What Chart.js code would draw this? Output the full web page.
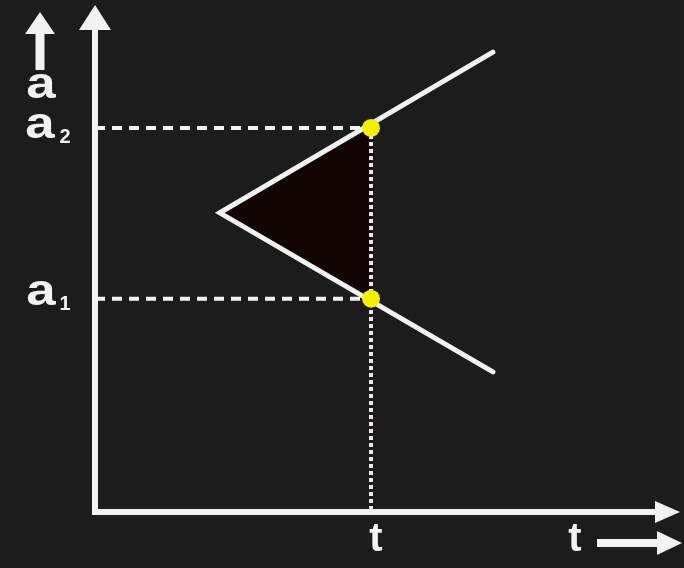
<!DOCTYPE html>
<html>
<head>
<meta charset="utf-8">
<script src="https://cdn.jsdelivr.net/npm/chart.js@4.4.0/dist/chart.umd.min.js"></script>
<style>
  html, body { margin: 0; padding: 0; background: #1c1c1c; }
  #wrap { width: 684px; height: 568px; position: relative; }
</style>
</head>
<body>
<div id="wrap"><canvas id="diagram"></canvas></div>
<script>
// values (axis units 0..100)
var tValue = 48;
var a1Value = 42.5;
var a2Value = 76.5;
var apex = [21.7, 59.6];
var upperEnd = [69.2, 91.6];
var lowerEnd = [69.2, 27.9];
var axisLabels = ['a', 't'];
var tickNames = ['a', 't'];

var white = '#f2f2f2';

// wide squat letters like the reference
function wideText(ctx, txt, cx, cy, sx) {
  ctx.save();
  ctx.translate(cx, cy);
  ctx.scale(sx, 1);
  ctx.fillText(txt, 0, 0);
  ctx.restore();
}

// axes with arrows + text labels
var decor = {
  id: 'decor',
  beforeDatasetsDraw: function(chart) {
    var ctx = chart.ctx, ca = chart.chartArea;
    ctx.save();
    ctx.strokeStyle = white;
    ctx.fillStyle = white;
    ctx.lineWidth = 6;
    // y axis
    ctx.beginPath();
    ctx.moveTo(ca.left, ca.bottom + 3);
    ctx.lineTo(ca.left, ca.top + 18);
    ctx.stroke();
    ctx.beginPath();
    ctx.moveTo(ca.left - 16, ca.top + 20);
    ctx.lineTo(ca.left, ca.top - 5);
    ctx.lineTo(ca.left + 16, ca.top + 20);
    ctx.closePath();
    ctx.fill();
    // x axis
    ctx.beginPath();
    ctx.moveTo(ca.left - 3, ca.bottom);
    ctx.lineTo(ca.right - 12, ca.bottom);
    ctx.stroke();
    ctx.beginPath();
    ctx.moveTo(ca.right - 15, ca.bottom - 11);
    ctx.lineTo(ca.right + 10, ca.bottom);
    ctx.lineTo(ca.right - 15, ca.bottom + 11);
    ctx.closePath();
    ctx.fill();
    ctx.restore();
  },
  afterDraw: function(chart) {
    var ctx = chart.ctx, ca = chart.chartArea;
    var x = chart.scales.x, y = chart.scales.y;
    ctx.save();
    ctx.fillStyle = white;
    ctx.strokeStyle = white;
    ctx.textAlign = 'center';
    ctx.textBaseline = 'middle';
    ctx.font = 'bold 44px "Liberation Sans", Arial, sans-serif';
    // a label with small up arrow
    wideText(ctx, axisLabels[0], 41, 86, 1.2);
    ctx.lineWidth = 9;
    ctx.beginPath();
    ctx.moveTo(40, 70);
    ctx.lineTo(40, 30);
    ctx.stroke();
    ctx.beginPath();
    ctx.moveTo(25, 34);
    ctx.lineTo(40, 12);
    ctx.lineTo(55, 34);
    ctx.closePath();
    ctx.fill();
    // a2, a1
    var ya2 = y.getPixelForValue(a2Value), ya1 = y.getPixelForValue(a1Value);
    wideText(ctx, tickNames[0], 40, ya2 - 2, 1.2);
    wideText(ctx, tickNames[0], 41, ya1 - 6, 1.2);
    ctx.font = 'bold 20px "Liberation Sans", Arial, sans-serif';
    ctx.fillText('2', 65, ya2 + 10);
    ctx.fillText('1', 65, ya1 + 6);
    // t labels
    ctx.font = 'bold 40px "Liberation Sans", Arial, sans-serif';
    ctx.fillText(tickNames[1], x.getPixelForValue(tValue) + 5, ca.bottom + 28);
    ctx.fillText(axisLabels[1], 575, ca.bottom + 28);
    ctx.lineWidth = 8;
    ctx.beginPath();
    ctx.moveTo(597, ca.bottom + 31);
    ctx.lineTo(662, ca.bottom + 31);
    ctx.stroke();
    ctx.beginPath();
    ctx.moveTo(657, ca.bottom + 19);
    ctx.lineTo(682, ca.bottom + 31);
    ctx.lineTo(657, ca.bottom + 43);
    ctx.closePath();
    ctx.fill();
    ctx.restore();
  }
};

var config = {
  type: 'scatter',
  data: {
    datasets: [
      {
        // shaded triangle
        data: [{x: apex[0], y: apex[1]}, {x: tValue, y: a2Value}, {x: tValue, y: a1Value}, {x: apex[0], y: apex[1]}],
        showLine: true,
        borderWidth: 0,
        borderColor: 'rgba(0,0,0,0)',
        backgroundColor: '#130404',
        fill: 'shape',
        pointRadius: 0,
        order: 5
      },
      {
        // horizontal dashed a2
        data: [{x: 0, y: a2Value}, {x: tValue, y: a2Value}],
        showLine: true,
        borderColor: white,
        borderWidth: 4,
        borderDash: [10, 7],
        pointRadius: 0,
        order: 4
      },
      {
        // horizontal dashed a1
        data: [{x: 0, y: a1Value}, {x: tValue, y: a1Value}],
        showLine: true,
        borderColor: white,
        borderWidth: 4,
        borderDash: [10, 7],
        pointRadius: 0,
        order: 4
      },
      {
        // vertical dotted at t
        data: [{x: tValue, y: a2Value}, {x: tValue, y: 0}],
        showLine: true,
        borderColor: '#f0e6ee',
        borderWidth: 4,
        borderDash: [4, 3],
        pointRadius: 0,
        order: 4
      },
      {
        // V lines
        data: [{x: upperEnd[0], y: upperEnd[1]}, {x: apex[0], y: apex[1]}, {x: lowerEnd[0], y: lowerEnd[1]}],
        showLine: true,
        borderColor: white,
        borderWidth: 5,
        borderCapStyle: 'round',
        borderJoinStyle: 'miter',
        pointRadius: 0,
        order: 2
      },
      {
        // yellow points
        data: [{x: tValue, y: a2Value}, {x: tValue, y: a1Value}],
        showLine: false,
        pointRadius: 9,
        pointBackgroundColor: '#f2f000',
        pointBorderWidth: 0,
        order: 1
      }
    ]
  },
  options: {
    responsive: true,
    maintainAspectRatio: false,
    animation: false,
    clip: false,
    layout: { padding: { left: 95, right: 14, top: 10, bottom: 56 } },
    plugins: { legend: { display: false }, tooltip: { enabled: false } },
    scales: {
      x: { type: 'linear', min: 0, max: 100, display: false },
      y: { type: 'linear', min: 0, max: 100, display: false }
    }
  },
  plugins: [decor]
};

var myChart = new Chart(document.getElementById('diagram'), config);
</script>
</body>
</html>
